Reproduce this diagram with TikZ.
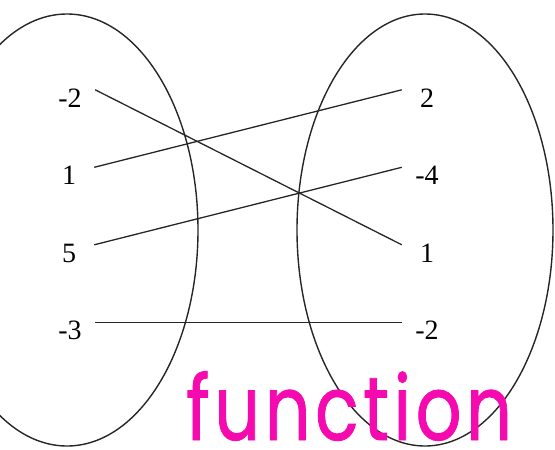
\documentclass[tikz,border=0pt]{standalone}
\usepackage{fontspec}
\setmainfont{Liberation Serif}
\newfontfamily\handfont[FakeBold=1,LetterSpace=6]{Poppins}
\usepackage{tikz}
\usetikzlibrary{calc,positioning}
\definecolor{penpink}{RGB}{245,10,175}

\begin{document}
\begin{tikzpicture}[x=1pt,y=-1pt,
        num/.style={inner xsep=0pt,inner ysep=0pt,minimum width=50pt,text height=17pt,text depth=0pt,font=\fontsize{28}{30}\selectfont},
        link/.style={line width=1.3pt,draw=black!85},
        set/.style={line width=1.4pt,draw=black!85}]
				 % \draw[color=gray,step=10pt, help lines,opacity=0.3] (0,0) grid (555,450); %help grids
				 \clip (0,0) rectangle (555,450);
				 \draw[set] (67,230) ellipse [x radius=131, y radius=216];
				 \draw[set] (425,230) ellipse [x radius=128, y radius=216];
				 \node[num] (a1) at (70,98.5) {-2};
				 \node[num] (a2) at (69,176) {1};
				 \node[num] (a3) at (69,253.5) {5};
				 \node[num] (a4) at (70,331) {-3};
				 \node[num] (b1) at (427,98.5) {2};
				 \node[num] (b2) at (427,176) {-4};
				 \node[num] (b3) at (427,253.5) {1};
				 \node[num] (b4) at (427,331) {-2};
				 \draw[link] (a1.north east)--(b3.north west);
				 \draw[link] (a2.north east)--(b1.north west);
				 \draw[link] (a3.north east)--(b2.north west);
				 \draw[link] (a4.north east)--(b4.north west);
				 \node[anchor=base west,inner sep=0pt,text depth=0pt,yscale=1.25,transform shape,text=penpink,font=\handfont\fontsize{72}{80}\selectfont] (word) at (186,440) {function};
\end{tikzpicture}
\end{document}
